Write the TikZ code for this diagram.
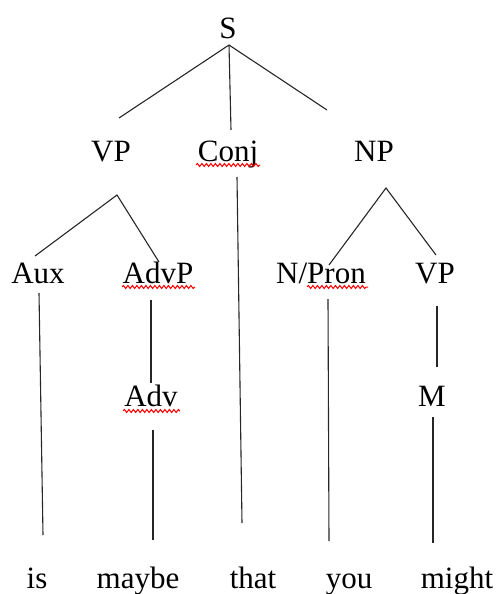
\documentclass[tikz,border=0pt]{standalone}
\usepackage{fontspec}
\setmainfont{Liberation Serif}
\usetikzlibrary{decorations.pathmorphing}
\begin{document}
\begin{tikzpicture}[x=1pt,y=-1pt,
  lab/.style={anchor=base,inner sep=0pt,font=\fontsize{31}{31}\selectfont},
  branch/.style={line width=1.1pt,draw=black!85},
  spell/.style={draw=red,line width=1pt,decorate,decoration={snake,amplitude=1.5pt,segment length=4.5pt}}]
\useasboundingbox (0,0) rectangle (500,594);
% labels
\node[lab] (S) at (228,38) {S};
\node[lab] (VPa) at (111,161) {VP};
\node[lab] (Conj) at (228,161) {Conj};
\node[lab] (NP) at (374,161) {NP};
\node[lab] (Aux) at (38,283) {Aux};
\node[lab] (AdvP) at (158,283) {AdvP};
\node[lab] (NPron) at (321,283) {N/Pron};
\node[lab] (VPb) at (435,283) {VP};
\node[lab] (Adv) at (151,406) {Adv};
\node[lab] (M) at (432,406) {M};
\node[lab] (w1) at (37,588) {is};
\node[lab] (w2) at (138,588) {maybe};
\node[lab] (w3) at (253,588) {that};
\node[lab] (w4) at (349,588) {you};
\node[lab] (w5) at (457,588) {might};
% line end points
\coordinate (Sb) at (229,45);
\coordinate (VPat) at (119,118);
\coordinate (Conjt) at (231,130);
\coordinate (NPt) at (327,110);
\coordinate (VPab) at (117,195);
\coordinate (Auxt) at (35,256);
\coordinate (AdvPt) at (159,262);
\coordinate (Conjb) at (237,177);
\coordinate (w3t) at (242,523);
\coordinate (NPb) at (386,188);
\coordinate (NPront) at (329,265);
\coordinate (VPbt) at (436,255);
\coordinate (Auxb) at (39,293);
\coordinate (w1t) at (43,535);
\coordinate (AdvPb) at (151,300);
\coordinate (Advt) at (151,383);
\coordinate (Advb) at (153,430);
\coordinate (w2t) at (153,540);
\coordinate (NPronb) at (328,299);
\coordinate (w4t) at (329,541);
\coordinate (VPbb) at (437,306);
\coordinate (Mt) at (437,367);
\coordinate (Mb) at (433,417);
\coordinate (w5t) at (433,543);
% branches
\draw[branch] (VPat) -- (Sb) -- (NPt);
\draw[branch] (Sb) -- (Conjt);
\draw[branch] (Auxt) -- (VPab) -- (AdvPt);
\draw[branch] (Conjb) -- (w3t);
\draw[branch] (NPront) -- (NPb) -- (VPbt);
\draw[branch] (Auxb) -- (w1t);
\draw[branch] (AdvPb) -- (Advt);
\draw[branch] (Advb) -- (w2t);
\draw[branch] (NPronb) -- (w4t);
\draw[branch] (VPbb) -- (Mt);
\draw[branch] (Mb) -- (w5t);
% spell-check underlines
\draw[spell] (196,165) -- (260,165);
\draw[spell] (122,287) -- (195,287);
\draw[spell] (307,287) -- (368,287);
\draw[spell] (123,411) -- (180,411);
\end{tikzpicture}
\end{document}
